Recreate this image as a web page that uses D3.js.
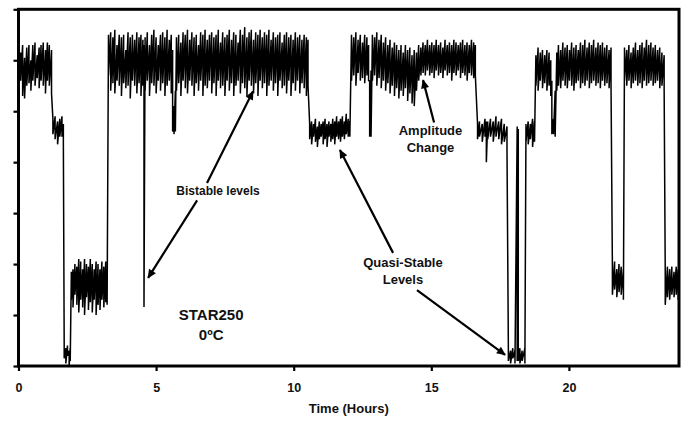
<!DOCTYPE html>
<meta charset="utf-8">
<style>
body { margin: 0; background: #fff; }
svg text { font-family: Arial, "Liberation Sans", sans-serif; font-weight: bold; fill: #111; }
.trace { fill: none; stroke: #000; stroke-width: 1.5px; stroke-linejoin: bevel; }
.frame { fill: none; stroke: #000; stroke-width: 3px; }
.arrow { stroke: #000; stroke-width: 2.2px; }
</style>
<body>
<script src="https://d3js.org/d3.v7.min.js"></script>
<script>

// signal envelope: [hours, low, high] in axis units (0..7)
var firstHours = [
  [0.0, 5.5, 5.95], [0.08, 5.6, 6.15], [0.15, 5.3, 6.3], [0.22, 5.25, 6.05], [0.3, 5.5, 6.25],
  [0.38, 5.55, 6.3], [0.45, 5.4, 6.0], [0.52, 5.6, 6.3], [0.6, 5.5, 6.35], [0.68, 5.65, 6.1],
  [0.75, 5.45, 6.25], [0.82, 5.6, 6.3], [0.9, 5.5, 6.35], [0.98, 5.35, 6.2], [1.05, 5.6, 6.35],
  [1.12, 5.5, 6.3], [1.2, 5.35, 6.2],
  [1.25, 4.55, 4.85], [1.33, 4.45, 4.9], [1.42, 4.35, 4.8], [1.5, 4.5, 4.85], [1.58, 4.5, 4.9], [1.63, 4.4, 4.75],
  [1.66, 0.15, 0.45], [1.72, 0.05, 0.35], [1.78, 0.2, 0.4], [1.84, 0.0, 0.3], [1.88, 0.1, 0.35],
  [1.92, 1.3, 1.85], [1.98, 1.15, 1.9], [2.05, 1.4, 2.0], [2.12, 1.2, 1.95], [2.19, 1.05, 2.1],
  [2.26, 1.3, 2.05], [2.33, 1.15, 1.9], [2.4, 1.0, 2.1], [2.47, 1.35, 2.0], [2.54, 1.1, 1.95],
  [2.61, 1.25, 2.1], [2.68, 1.05, 2.0], [2.75, 1.3, 1.9], [2.82, 1.0, 2.05], [2.89, 1.2, 2.0],
  [2.96, 1.1, 1.9], [3.03, 1.3, 2.05], [3.1, 1.15, 1.95], [3.17, 1.25, 2.05], [3.22, 1.2, 1.9]
];

var bistable = [
  [3.27, 5.7, 6.5], [3.35, 5.4, 6.55], [3.43, 5.55, 6.45], [3.5, 5.35, 6.6], [3.58, 5.6, 6.3],
  [3.66, 5.5, 6.5], [3.74, 5.3, 6.45], [3.82, 5.55, 6.5], [3.9, 5.45, 6.2], [3.98, 5.5, 6.55],
  [4.06, 5.25, 6.45], [4.14, 5.6, 6.5], [4.22, 5.5, 6.4], [4.3, 5.35, 6.55], [4.38, 5.55, 6.45],
  [4.45, 5.3, 6.5], [4.52, 5.5, 6.4], [4.56, 1.16, 6.3], [4.6, 5.4, 6.45], [4.68, 5.6, 6.55],
  [4.76, 5.3, 6.3], [4.84, 5.55, 6.5], [4.92, 5.5, 6.6], [5.0, 5.35, 6.45], [5.08, 5.6, 6.3],
  [5.16, 5.4, 6.5], [5.24, 5.55, 6.55], [5.32, 5.3, 6.45], [5.4, 5.5, 6.6], [5.48, 5.6, 6.4],
  [5.55, 5.35, 6.5], [5.6, 4.6, 6.2], [5.65, 4.55, 5.1], [5.7, 4.6, 5.4], [5.74, 5.4, 6.45],
  [5.82, 5.55, 6.5], [5.9, 5.3, 6.35], [5.98, 5.6, 6.55], [6.06, 5.45, 6.5], [6.14, 5.35, 6.6],
  [6.22, 5.6, 6.4], [6.3, 5.5, 6.55], [6.38, 5.3, 6.45], [6.46, 5.55, 6.5], [6.54, 5.4, 6.3],
  [6.62, 5.6, 6.55], [6.7, 5.3, 6.5], [6.78, 5.5, 6.6], [6.86, 5.45, 6.4], [6.94, 5.6, 6.5],
  [7.02, 5.35, 6.55], [7.1, 5.55, 6.45], [7.18, 5.3, 6.5], [7.26, 5.6, 6.6], [7.34, 5.45, 6.35],
  [7.42, 5.5, 6.55], [7.5, 5.3, 6.45], [7.58, 5.6, 6.5], [7.66, 5.4, 6.6], [7.74, 5.55, 6.4],
  [7.82, 5.3, 6.55], [7.9, 5.5, 6.5], [7.98, 5.6, 6.35], [8.06, 5.35, 6.6], [8.14, 5.55, 6.5],
  [8.22, 5.45, 6.65], [8.3, 5.3, 6.45], [8.38, 5.6, 6.55], [8.46, 5.5, 6.6], [8.54, 5.35, 6.4],
  [8.62, 5.55, 6.55], [8.7, 5.3, 6.5], [8.78, 5.6, 6.6], [8.86, 5.45, 6.45], [8.94, 5.55, 6.55],
  [9.02, 5.3, 6.5], [9.1, 5.5, 6.6], [9.18, 5.6, 6.4], [9.26, 5.4, 6.55], [9.34, 5.55, 6.45],
  [9.42, 5.3, 6.5], [9.5, 5.6, 6.55], [9.58, 5.45, 6.35], [9.66, 5.5, 6.5], [9.74, 5.35, 6.55],
  [9.82, 5.6, 6.45], [9.9, 5.3, 6.5], [9.98, 5.55, 6.4], [10.06, 5.4, 6.55], [10.14, 5.6, 6.45],
  [10.22, 5.35, 6.5], [10.3, 5.55, 6.4], [10.38, 5.45, 6.5], [10.46, 5.3, 6.45], [10.52, 5.5, 6.4]
];

var middleHours = [
  [10.58, 4.45, 4.75], [10.65, 4.35, 4.8], [10.72, 4.5, 4.75], [10.79, 4.4, 4.85], [10.86, 4.3, 4.7],
  [10.93, 4.45, 4.8], [11.0, 4.5, 4.75], [11.07, 4.35, 4.8], [11.14, 4.45, 4.85], [11.21, 4.3, 4.75],
  [11.28, 4.5, 4.8], [11.35, 4.4, 4.75], [11.42, 4.45, 4.85], [11.49, 4.35, 4.8], [11.56, 4.5, 4.9],
  [11.63, 4.45, 4.8], [11.7, 4.4, 4.85], [11.77, 4.5, 4.9], [11.84, 4.45, 4.8], [11.91, 4.55, 4.95],
  [11.98, 4.5, 4.85], [12.04, 4.5, 4.8],
  [12.1, 5.6, 6.5], [12.18, 5.7, 6.45], [12.26, 5.5, 6.55], [12.34, 5.75, 6.4], [12.42, 5.6, 6.5],
  [12.5, 5.65, 6.35], [12.58, 5.55, 6.5], [12.66, 5.7, 6.45], [12.72, 5.6, 6.3], [12.76, 4.5, 5.6],
  [12.81, 4.5, 5.8], [12.86, 5.6, 6.5], [12.94, 5.7, 6.45], [13.02, 5.5, 6.55], [13.1, 5.65, 6.4],
  [13.18, 5.45, 6.5], [13.26, 5.6, 6.35], [13.34, 5.4, 6.45], [13.42, 5.55, 6.3], [13.5, 5.35, 6.4],
  [13.58, 5.5, 6.25], [13.66, 5.3, 6.35], [13.74, 5.45, 6.3], [13.82, 5.25, 6.2], [13.9, 5.4, 6.3],
  [13.98, 5.3, 6.15], [14.06, 5.45, 6.3], [14.14, 5.2, 6.2], [14.22, 5.35, 6.25], [14.3, 5.15, 6.1],
  [14.38, 5.1, 6.2], [14.46, 5.4, 6.15], [14.54, 5.6, 6.3], [14.62, 5.7, 6.25], [14.7, 5.75, 6.35],
  [14.78, 5.7, 6.3], [14.86, 5.8, 6.4], [14.94, 5.7, 6.3], [15.02, 5.75, 6.35], [15.1, 5.65, 6.3],
  [15.18, 5.8, 6.4], [15.26, 5.7, 6.3], [15.34, 5.75, 6.35], [15.42, 5.65, 6.25], [15.5, 5.8, 6.4],
  [15.58, 5.7, 6.3], [15.66, 5.75, 6.35], [15.74, 5.6, 6.3], [15.82, 5.75, 6.4], [15.9, 5.7, 6.35],
  [15.98, 5.8, 6.3], [16.06, 5.65, 6.35], [16.14, 5.75, 6.4], [16.22, 5.7, 6.3], [16.3, 5.6, 6.35],
  [16.38, 5.75, 6.3], [16.46, 5.7, 6.4], [16.54, 5.65, 6.35], [16.6, 5.7, 6.3]
];

var lastHours = [
  [16.68, 4.45, 4.75], [16.75, 4.5, 4.8], [16.85, 4.4, 4.75], [16.95, 4.5, 4.85], [17.0, 4.0, 4.8],
  [17.05, 4.45, 4.8], [17.15, 4.5, 4.85], [17.25, 4.4, 4.8], [17.35, 4.5, 4.9], [17.45, 4.45, 4.8],
  [17.55, 4.35, 4.85], [17.65, 4.4, 4.75], [17.75, 4.25, 4.7],
  [17.8, 0.1, 0.35], [17.88, 0.05, 0.3], [17.96, 0.15, 0.35], [18.04, 0.05, 0.3], [18.12, 0.1, 4.7],
  [18.16, 0.1, 4.65], [18.22, 0.05, 0.35], [18.3, 0.1, 0.3], [18.4, 0.05, 0.35],
  [18.44, 4.4, 4.75], [18.52, 4.35, 4.8], [18.6, 4.45, 4.75], [18.68, 4.3, 4.85], [18.75, 4.4, 4.8],
  [18.8, 5.5, 6.1], [18.88, 5.4, 6.25], [18.96, 5.6, 6.15], [19.04, 5.45, 6.2], [19.12, 5.55, 6.1],
  [19.2, 5.4, 6.2], [19.28, 5.5, 6.15], [19.34, 5.3, 6.0], [19.38, 4.55, 5.6], [19.44, 4.55, 4.85],
  [19.5, 4.5, 5.4], [19.56, 5.4, 6.15], [19.62, 5.5, 6.3], [19.7, 5.45, 6.2], [19.78, 5.6, 6.35],
  [19.86, 5.5, 6.25], [19.94, 5.45, 6.3], [20.02, 5.6, 6.2], [20.1, 5.5, 6.35], [20.18, 5.4, 6.25],
  [20.26, 5.55, 6.3], [20.34, 5.6, 6.2], [20.42, 5.45, 6.35], [20.5, 5.55, 6.3], [20.58, 5.5, 6.4],
  [20.66, 5.6, 6.25], [20.74, 5.45, 6.35], [20.82, 5.55, 6.3], [20.9, 5.6, 6.4], [20.98, 5.5, 6.25],
  [21.06, 5.55, 6.35], [21.14, 5.45, 6.3], [21.22, 5.6, 6.35], [21.3, 5.5, 6.25], [21.38, 5.55, 6.3],
  [21.46, 5.45, 6.2], [21.53, 5.5, 6.25],
  [21.58, 1.4, 1.95], [21.66, 1.5, 2.05], [21.74, 1.35, 1.9], [21.82, 1.45, 2.0], [21.9, 1.4, 1.95],
  [21.98, 1.3, 1.9],
  [22.02, 5.6, 6.25], [22.1, 5.5, 6.2], [22.18, 5.6, 6.3], [22.26, 5.45, 6.15], [22.34, 5.55, 6.25],
  [22.42, 5.6, 6.35], [22.5, 5.5, 6.2], [22.58, 5.55, 6.3], [22.66, 5.45, 6.35], [22.74, 5.6, 6.25],
  [22.82, 5.5, 6.4], [22.9, 5.55, 6.3], [22.98, 5.6, 6.35], [23.06, 5.5, 6.25], [23.14, 5.55, 6.3],
  [23.22, 5.6, 6.2], [23.3, 5.45, 6.25], [23.38, 5.5, 6.15], [23.46, 5.45, 6.1],
  [23.5, 1.2, 1.85], [23.58, 1.35, 1.95], [23.66, 1.3, 1.9], [23.74, 1.4, 1.95], [23.82, 1.35, 1.85],
  [23.9, 1.4, 1.95], [23.97, 1.3, 1.9]
];

var xTicks = [0, 5, 10, 15, 20];
var yTicks = [0, 1, 2, 3, 4, 5, 6, 7];

// text notes: [hours, level, line1, line2]
var notes = [
  [7.25, 3.35, "Bistable levels", null],
  [14.97, 4.53, "Amplitude", "Change"],
  [13.97, 1.94, "Quasi-Stable", "Levels"],
  [7.0, 0.9, "STAR250", "0\u00baC"]
];
// arrows: [fromHours, fromLevel, toHours, toLevel]
var arrows = [
  [6.85, 3.59, 8.52, 5.39],
  [6.49, 3.25, 4.71, 1.73],
  [15.1, 4.78, 14.7, 5.61],
  [13.61, 2.22, 11.68, 4.24],
  [14.48, 1.49, 17.68, 0.22]
];

var width = 688,
    height = 422;

var x = d3.scaleLinear().domain([0, 24]).range([18.5, 679]);
var y = d3.scaleLinear().domain([0, 7]).range([366, 9.3]);

var svg = d3.select("body").append("svg")
    .attr("width", width)
    .attr("height", height);

svg.append("defs").append("marker")
    .attr("id", "head")
    .attr("viewBox", "0 -5 10 10")
    .attr("refX", 9)
    .attr("refY", 0)
    .attr("markerUnits", "userSpaceOnUse")
    .attr("markerWidth", 11)
    .attr("markerHeight", 9)
    .attr("orient", "auto")
  .append("path")
    .attr("d", "M0,-4.5L10,0L0,4.5Z")
    .attr("fill", "#000");

// zig-zag between the low and high envelope at each reading
var trace = firstHours.concat(bistable, middleHours, lastHours);
var pts = [];
trace.forEach(function(d) {
  pts.push([d[0], d[2]]);
  pts.push([d[0], d[1]]);
});

var line = d3.line()
    .x(function(d) { return x(d[0]); })
    .y(function(d) { return y(d[1]); });

svg.append("path")
    .datum(pts)
    .attr("class", "trace")
    .attr("d", line);

// axes
var xAxis = svg.append("g")
    .attr("transform", "translate(0," + y(0) + ")")
    .call(d3.axisBottom(x).tickValues(xTicks).tickSize(5).tickPadding(12).tickFormat(d3.format("d")));
xAxis.select(".domain").remove();
xAxis.selectAll("line").attr("stroke-width", 2.2);
xAxis.selectAll("text").style("font-size", "12.5px").attr("fill", "#111");

var yAxis = svg.append("g")
    .attr("transform", "translate(" + x(0) + ",0)")
    .call(d3.axisLeft(y).tickValues(yTicks).tickSize(5).tickFormat(""));
yAxis.select(".domain").remove();
yAxis.selectAll("line").attr("stroke-width", 2.2);

svg.append("rect")
    .attr("class", "frame")
    .attr("x", x(0))
    .attr("y", y(7))
    .attr("width", x(24) - x(0))
    .attr("height", y(0) - y(7));

svg.append("text")
    .attr("x", (x(0) + x(24)) / 2)
    .attr("y", 413)
    .attr("text-anchor", "middle")
    .style("font-size", "13px")
    .text("Time (Hours)");

// annotations
svg.selectAll(".arrow")
    .data(arrows)
    .enter()
    .append("line")
    .attr("class", "arrow")
    .attr("x1", function(d) { return x(d[0]); })
    .attr("y1", function(d) { return y(d[1]); })
    .attr("x2", function(d) { return x(d[2]); })
    .attr("y2", function(d) { return y(d[3]); })
    .attr("marker-end", "url(#head)");

var note = svg.selectAll(".note")
    .data(notes)
    .enter()
    .append("text")
    .attr("class", "note")
    .attr("text-anchor", "middle")
    .attr("x", function(d) { return x(d[0]); })
    .attr("y", function(d) { return y(d[1]); })
    .style("font-size", function(d) { return d[2] == "STAR250" ? "15px" : (d[2] == "Bistable levels" ? "12px" : "13px"); });

note.append("tspan")
    .text(function(d) { return d[2]; });

note.filter(function(d) { return d[3]; })
  .append("tspan")
    .attr("x", function(d) { return x(d[0]); })
    .attr("dy", "1.3em")
    .text(function(d) { return d[3]; });

</script>
